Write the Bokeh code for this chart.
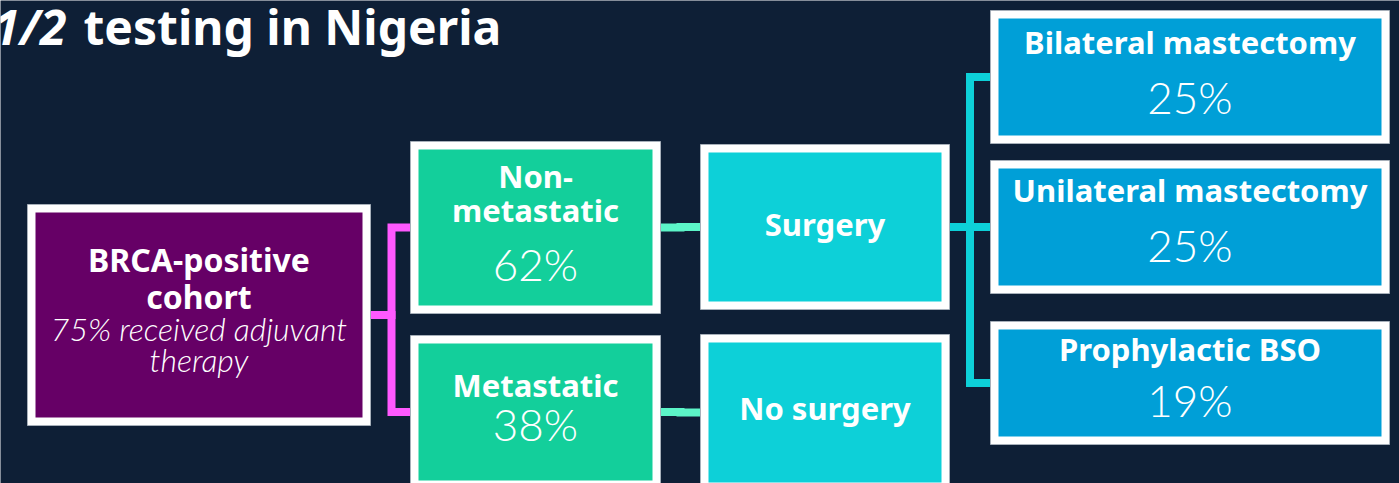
from bokeh.plotting import figure
from bokeh.models import Range1d
from bokeh.core.properties import value
from bokeh.embed import file_html
from bokeh.resources import INLINE

# ---------------- data ----------------
title_italic = "1/2"
title_rest = "testing in Nigeria"
node_labels = ["BRCA-positive\ncohort", "Non-\nmetastatic", "Metastatic", "Surgery", "No surgery",
               "Bilateral mastectomy", "Unilateral mastectomy", "Prophylactic BSO"]
node_pct = [None, 62, 38, None, None, 25, 25, 19]
cohort_note = "75% received adjuvant\ntherapy"
edges = [(0, 1), (0, 2), (1, 3), (2, 4), (3, 5), (3, 6), (3, 7)]

# ---------------- layout / style ----------------
W, H = 1399, 483
BG = "#0e1f36"
BORDER = 8
box_outer = [  # left, top, right, bottom (screen px)
    (27, 204, 370, 425),
    (410, 141, 660, 313),
    (410, 335, 660, 488),
    (700, 144, 949, 309),
    (700, 334, 949, 490),
    (990, 10, 1389, 143),
    (990, 160, 1389, 293),
    (990, 321, 1389, 444),
]
fills = ["#660066", "#13cf9b", "#13cf9b", "#0dd0d8", "#0dd0d8", "#009fd7", "#009fd7", "#009fd7"]
edge_colors = {0: "#ff59ff", 1: "#5cf5c8", 2: "#5cf5c8", 3: "#0dd0d8"}
bus_x = {0: 391, 1: 680, 2: 680, 3: 969.5}
label_baselines = [[273, 310], [189, 223], [398], [237], [421], [55], [203], [362]]
label_sizes = [32, 31, 31, 31, 31, 31, 31, 31]
pct_baselines = [None, 282, 442, None, None, 115, 263, 418]
note_baselines = [342, 373]
K = 0.43  # renderer baseline correction (fraction of font size)

BOLD = "Noto Sans"
LIGHT = "Lato Light"
PCT_SIZE = 44
NOTE_SIZE = 32
TITLE_SIZE = 48

p = figure(width=W, height=H, x_range=Range1d(0, W), y_range=Range1d(H, 0),
           output_backend="svg", toolbar_location=None, min_border=0,
           x_axis_type=None, y_axis_type=None,
           background_fill_color=BG, border_fill_color=BG, outline_line_color=None)
p.grid.visible = False
p.styles = {"position": "absolute", "left": "0px", "top": "0px"}

def cx(b):
    return (b[0] + b[2]) / 2

def cy(b):
    return (b[1] + b[3]) / 2

def base(y, size):
    return y - K * size

# connectors
for s, t in edges:
    bs, bt = box_outer[s], box_outer[t]
    xs = [bs[2], bus_x[s], bus_x[s], bt[0]]
    ys = [cy(bs), cy(bs), cy(bt), cy(bt)]
    p.line(xs, ys, line_color=edge_colors[s], line_width=8,
           line_join="miter", line_cap="butt")

# boxes
p.quad(left=[b[0] for b in box_outer], right=[b[2] for b in box_outer],
       top=[b[1] for b in box_outer], bottom=[b[3] for b in box_outer],
       fill_color="white", line_color="#a7b0ba", line_width=1)
p.quad(left=[b[0] + BORDER for b in box_outer], right=[b[2] - BORDER for b in box_outer],
       top=[b[1] + BORDER for b in box_outer], bottom=[b[3] - BORDER for b in box_outer],
       fill_color=fills, line_color=None)

# bold labels
for i, lab in enumerate(node_labels):
    lines = lab.split("\n")
    sz = label_sizes[i]
    p.text([cx(box_outer[i])] * len(lines), [base(b, sz) for b in label_baselines[i]], text=lines,
           text_align="center", text_baseline="alphabetic",
           text_font=value(BOLD), text_font_style="bold", text_font_size=f"{sz}px",
           text_color="white")

# percentages
px_, py_, pt_ = [], [], []
for i, v in enumerate(node_pct):
    if v is not None:
        px_.append(cx(box_outer[i])); py_.append(base(pct_baselines[i], PCT_SIZE)); pt_.append(f"{v}%")
p.text(px_, py_, text=pt_, text_align="center", text_baseline="alphabetic",
       text_font=value(LIGHT), text_font_size=f"{PCT_SIZE}px", text_color="white")

# cohort note
p.text([cx(box_outer[0])] * 2, [base(b, NOTE_SIZE) for b in note_baselines],
       text=cohort_note.split("\n"),
       text_align="center", text_baseline="alphabetic",
       text_font=value(LIGHT), text_font_style="italic", text_font_size=f"{NOTE_SIZE}px",
       text_color="white")

# title (clipped at the left edge, as in the source)
p.text([66], [base(47, TITLE_SIZE)], text=[title_italic], text_align="right", text_baseline="alphabetic",
       text_font=value(BOLD), text_font_style="bold italic", text_font_size=f"{TITLE_SIZE}px",
       text_color="white")
p.text([83], [base(47, TITLE_SIZE)], text=[title_rest], text_align="left", text_baseline="alphabetic",
       text_font=value(BOLD), text_font_style="bold", text_font_size=f"{TITLE_SIZE}px",
       text_color="white")

open("out.html", "w").write(file_html(p, INLINE))
